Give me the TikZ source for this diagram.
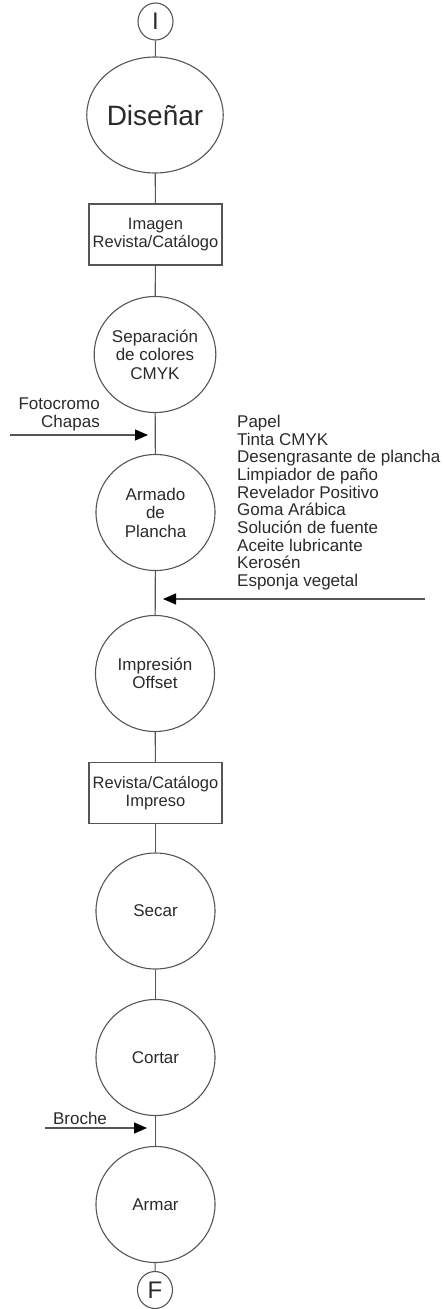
\documentclass[tikz,border=0pt]{standalone}
\usepackage{fontspec}
\setmainfont{Liberation Sans}
\usetikzlibrary{shapes.geometric,arrows.meta}
\definecolor{ink}{HTML}{2A2A2A}
\definecolor{edge}{HTML}{555555}
\begin{document}
\begin{tikzpicture}[x=1pt,y=-1pt,
  every node/.style={text=ink,inner sep=0pt},
  proc/.style={ellipse,draw=edge,line width=1.1pt,minimum width=119pt,minimum height=116pt,
    align=center,font=\fontsize{17}{18.5}\selectfont},
  term/.style={ellipse,draw=edge,line width=1.1pt,minimum width=35pt,minimum height=37pt,
    font=\fontsize{24}{24}\selectfont},
  doc/.style={rectangle,draw=edge,line width=1.1pt,minimum width=133pt,minimum height=61pt,
    align=center,font=\fontsize{16.5}{18}\selectfont},
  link/.style={draw=edge,line width=1.1pt},
  feed/.style={draw=edge,line width=1.1pt,
    -{Triangle[length=13pt,width=11pt,color=black,fill=black]}},
  lbl/.style={font=\fontsize{17}{18}\selectfont}]
\useasboundingbox (0,0) rectangle (443,1309);

% main chain of the process
\node[term] (ini) at (155.5,21.5) {I};
\node[proc,font=\fontsize{28}{30}\selectfont] (dis) at (155,115) {Diseñar};
\node[doc] (img) at (155.5,234.5) {Imagen\\Revista/Catálogo};
\node[proc] (sep) at (155,354.5) {Separación\\de colores\\CMYK};
\node[proc] (arm) at (155.5,512.5) {Armado\\de\\Plancha};
\node[proc] (imp) at (155,673.5) {Impresión\\Offset};
\node[doc] (rev) at (155.5,793) {Revista/Catálogo\\Impreso};
\node[proc] (sec) at (155.5,911) {Secar};
\node[proc] (cor) at (155.5,1057.5) {Cortar};
\node[proc] (arr) at (155.5,1204.5) {Armar};
\node[term] (fin) at (155,1290) {F};

\draw[link] (ini) -- (dis);
\draw[link] (dis) -- (img);
\draw[link] (img) -- (sep);
\draw[link] (sep) -- (arm);
\draw[link] (arm) -- (imp);
\draw[link] (imp) -- (rev);
\draw[link] (rev) -- (sec);
\draw[link] (sec) -- (cor);
\draw[link] (cor) -- (arr);
\draw[link] (arr) -- (fin);

% inputs entering the chain
\coordinate (fotoA) at (10,435);
\coordinate (fotoB) at (148,435);
\node[lbl,align=right,anchor=east] (foto) at (100,414) {Fotocromo\\Chapas};
\draw[feed] (fotoA) -- (fotoB);

\coordinate (matA) at (425,599);
\coordinate (matB) at (163,599);
\node[lbl,align=left,anchor=west,font=\fontsize{17}{17.67}\selectfont] (mat) at (237,502.5)
  {Papel\\Tinta CMYK\\Desengrasante de plancha\\Limpiador de paño\\Revelador Positivo\\Goma Arábica\\Solución de fuente\\Aceite lubricante\\Kerosén\\Esponja vegetal};
\draw[feed] (matA) -- (matB);

\coordinate (broA) at (45,1128);
\coordinate (broB) at (147,1128);
\node[lbl] (bro) at (80,1118) {Broche};
\draw[feed] (broA) -- (broB);
\end{tikzpicture}
\end{document}
